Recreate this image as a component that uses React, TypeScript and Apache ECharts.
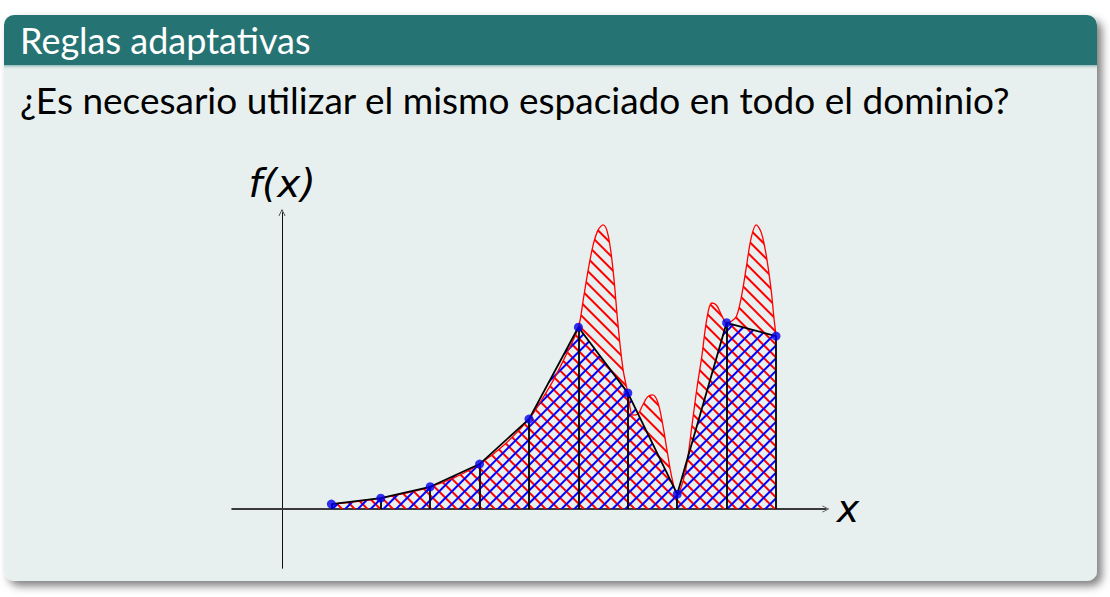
import React, { useEffect, useRef } from "react";
import * as echarts from "echarts";

const titleText = "Reglas adaptativas";
const questionText = "¿Es necesario utilizar el mismo espaciado en todo el dominio?";
const yLabel = "f(x)";
const xLabel = "x";

// nodes of the composite trapezoid rule
const nodeX = [1, 2, 3, 4, 5, 6, 7, 8, 9, 10];
const nodeY = [0.1, 0.22, 0.45, 0.91, 1.82, 3.68, 2.35, 0.3, 3.77, 3.5];

// the function f(x)
const curveX = [
  1, 1.5, 2, 2.5, 3, 3.5, 4, 4.5, 5, 5.25, 5.5, 5.75, 6, 6.1, 6.2, 6.3, 6.4, 6.5, 6.6, 6.7, 6.8, 6.9, 7,
  7.1, 7.2, 7.3, 7.4, 7.5, 7.6, 7.7, 7.8, 7.9, 8, 8.1, 8.2, 8.3, 8.4, 8.5, 8.6, 8.7, 8.8, 8.9, 9, 9.1,
  9.2, 9.3, 9.4, 9.5, 9.6, 9.7, 9.8, 9.9, 9.95, 10,
];
const curveY = [
  0.1, 0.15, 0.22, 0.32, 0.45, 0.64, 0.91, 1.3, 1.82, 2.2, 2.62, 3.12, 3.68, 4.25, 4.85, 5.35, 5.65, 5.75,
  5.55, 4.85, 3.75, 2.85, 2.35, 1.9, 1.92, 2.1, 2.27, 2.31, 2.18, 1.75, 1.15, 0.6, 0.3, 0.5, 0.95, 1.7,
  2.45, 3.1, 3.85, 4.17, 4.12, 3.92, 3.77, 3.8, 3.9, 4.3, 4.9, 5.5, 5.75, 5.6, 5.15, 4.45, 3.95, 3.5,
];

const chevron = "path://M0,10 L5,0 L10,10 L9,10 L5,2 L1,10 Z";

const hatch = (color: string, rotation: number) => ({
  symbol: "rect",
  symbolSize: 1,
  color,
  dashArrayX: [1, 0],
  dashArrayY: [1.4, 7],
  rotation,
});

export default function App() {
  const ref = useRef<HTMLDivElement>(null);
  useEffect(() => {
    document.body.style.margin = "0";
    const chart = echarts.init(ref.current!, undefined, { renderer: "svg" });
    const curve = curveX.map((x, i) => [x, curveY[i]]);
    const nodes = nodeX.map((x, i) => [x, nodeY[i]]);
    const redHatch = hatch("#ff0000", Math.PI / 4);
    const blueHatch = hatch("#0000ff", -Math.PI / 4);
    chart.setOption({
      animation: false,
      backgroundColor: "#ffffff",
      grid: { left: 232.106, top: 212.6, width: 593.788, height: 355.68 },
      xAxis: {
        type: "value",
        min: -1.01,
        max: 11.01,
        axisLine: {
          show: true,
          onZero: true,
          symbol: ["none", chevron],
          symbolSize: [11, 7],
          lineStyle: { color: "#3a3a3a", width: 1.8 },
        },
        axisTick: { show: false },
        axisLabel: { show: false },
        splitLine: { show: false },
      },
      yAxis: {
        type: "value",
        min: -1.2,
        max: 6,
        axisLine: {
          show: true,
          onZero: true,
          symbol: ["none", chevron],
          symbolSize: [11, 7],
          lineStyle: { color: "#111111", width: 1 },
        },
        axisTick: { show: false },
        axisLabel: { show: false },
        splitLine: { show: false },
      },
      graphic: [
        {
          type: "rect",
          z: -10,
          silent: true,
          shape: { x: 4, y: 15, width: 1093, height: 566, r: 10 },
          style: {
            fill: "#e8f0ef",
            shadowBlur: 8,
            shadowOffsetX: 5,
            shadowOffsetY: 5,
            shadowColor: "rgba(0,0,0,0.5)",
          },
        },
        {
          type: "rect",
          z: -9,
          silent: true,
          shape: { x: 4, y: 15, width: 1093, height: 50, r: [10, 10, 0, 0] },
          style: { fill: "#267373" },
        },
        {
          type: "rect",
          z: -9,
          silent: true,
          shape: { x: 4, y: 65, width: 1093, height: 5 },
          style: {
            fill: new echarts.graphic.LinearGradient(0, 0, 0, 1, [
              { offset: 0, color: "rgba(38,115,115,0.45)" },
              { offset: 1, color: "rgba(232,240,239,0)" },
            ]),
          },
        },
        {
          type: "text",
          x: 20,
          y: 40,
          style: {
            text: titleText,
            fill: "#ffffff",
            font: '36px Lato, "Open Sans", sans-serif',
            verticalAlign: "middle",
          },
        },
        {
          type: "text",
          x: 20,
          y: 99,
          style: {
            text: questionText,
            fill: "#000000",
            font: '37px Lato, "Open Sans", sans-serif',
            verticalAlign: "middle",
          },
        },
        {
          type: "text",
          x: 282,
          y: 183,
          style: {
            text: yLabel,
            fill: "#000000",
            font: 'italic 39px "DejaVu Sans", sans-serif',
            align: "center",
            verticalAlign: "middle",
          },
        },
        {
          type: "text",
          x: 848,
          y: 509,
          style: {
            text: xLabel,
            fill: "#000000",
            font: 'italic 38px "DejaVu Sans", sans-serif',
            align: "center",
            verticalAlign: "middle",
          },
        },
      ],
      series: [
        {
          type: "line",
          name: "f area",
          data: curve,
          smooth: 0.35,
          showSymbol: false,
          silent: true,
          lineStyle: { width: 0, color: "#ff0000", decal: redHatch },
          itemStyle: { color: "#ff0000", decal: redHatch },
          areaStyle: { color: "rgba(0,0,0,0)", opacity: 1 },
        },
        {
          type: "line",
          name: "trap area",
          data: nodes,
          showSymbol: false,
          silent: true,
          lineStyle: { width: 0, color: "#0000ff", decal: blueHatch },
          itemStyle: { color: "#0000ff", decal: blueHatch },
          areaStyle: { color: "rgba(0,0,0,0)", opacity: 1 },
        },
        {
          type: "line",
          name: "f",
          data: curve,
          smooth: 0.35,
          showSymbol: false,
          silent: true,
          lineStyle: { width: 1.3, color: "#ff0000" },
        },
        {
          type: "line",
          name: "trap",
          data: nodes,
          showSymbol: false,
          silent: true,
          lineStyle: { width: 1.8, color: "#000000" },
          markLine: {
            silent: true,
            symbol: ["none", "none"],
            label: { show: false },
            lineStyle: { color: "#000000", width: 1.8, type: "solid" },
            data: nodes.map(([x, y]) => [{ coord: [x, 0] }, { coord: [x, y] }]),
          },
        },
        {
          type: "scatter",
          name: "nodes",
          data: nodes,
          z: 10,
          symbol: "circle",
          symbolSize: 9,
          silent: true,
          itemStyle: { color: "#0000ee" },
        },
      ],
    });
    return () => chart.dispose();
  }, []);
  return (
    <div
      ref={ref}
      style={{ position: "absolute", left: 0, top: 0, width: 1110, height: 597 }}
    />
  );
}
